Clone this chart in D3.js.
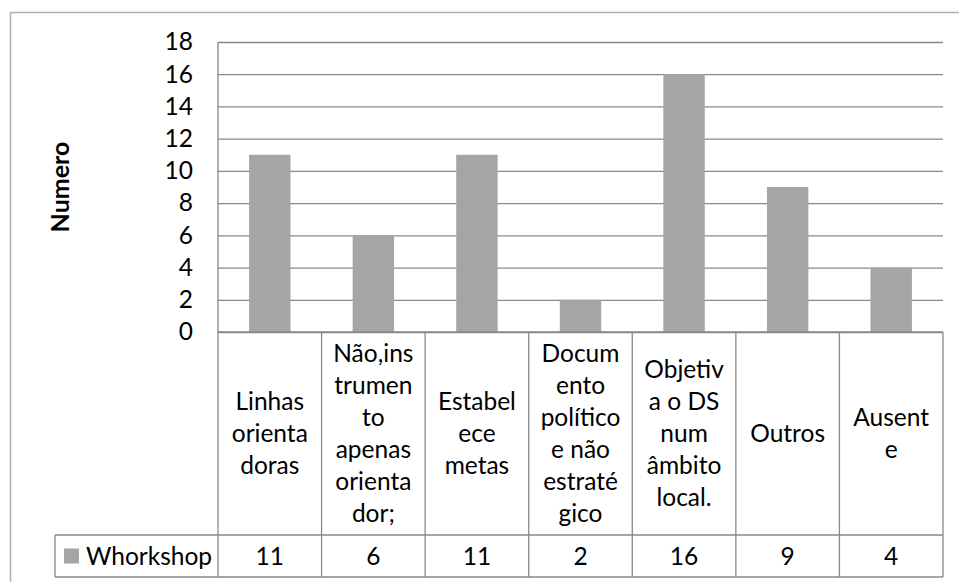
<!DOCTYPE html>
<html>
<head>
<meta charset="utf-8">
<script src="https://cdn.jsdelivr.net/npm/d3@7"></script>
<style>
  body { margin: 0; background: #fff; }
  svg { display: block; font-family: Lato, "Open Sans", sans-serif; }
</style>
</head>
<body>
<svg></svg>
<script>
var width = 959;
var height = 582;

// chart values
var seriesName = 'Whorkshop';
var categories = ['Linhas orientadoras', 'Não,instrumento apenas orientador;', 'Estabelece metas',
                  'Documento político e não estratégico', 'Objetiva o DS num âmbito local.', 'Outros', 'Ausente'];
// label lines as they wrap in the table cells
var categoryLines = [
    ['Linhas', 'orienta', 'doras'],
    ['Não,ins', 'trumen', 'to', 'apenas', 'orienta', 'dor;'],
    ['Estabel', 'ece', 'metas'],
    ['Docum', 'ento', 'político', 'e não', 'estraté', 'gico'],
    ['Objetiv', 'a o DS', 'num', 'âmbito', 'local.'],
    ['Outros'],
    ['Ausent', 'e']
];
var values = [11, 6, 11, 2, 16, 9, 4];
var yTicks = [0, 2, 4, 6, 8, 10, 12, 14, 16, 18];

var plot = {left: 218, right: 943, top: 42, bottom: 332};
var table = {labelBottom: 535, bottom: 577, legendLeft: 55};
var lineColor = '#898989';
var fontSize = 24.5;

var svg = d3.select('svg')
    .attr('width', width)
    .attr('height', height);

// outer chart border
svg.append('rect')
    .attr('x', 10.5)
    .attr('y', 12.5)
    .attr('width', 960)
    .attr('height', 600)
    .attr('fill', 'none')
    .attr('stroke', '#b0b0b0')
    .attr('stroke-width', 1.5);

var x = d3.scaleBand()
    .domain(categories)
    .range([plot.left, plot.right])
    .paddingInner(0)
    .paddingOuter(0);

var y = d3.scaleLinear()
    .domain([0, 18])
    .range([plot.bottom, plot.top]);

// gridlines + tick labels
var yAxis = svg.append('g')
    .attr('transform', `translate(${plot.left}, 0)`)
    .call(d3.axisLeft(y)
        .tickValues(yTicks)
        .tickSize(-(plot.right - plot.left))
        .tickPadding(25));

yAxis.select('.domain').remove();
yAxis.selectAll('.tick line')
    .attr('stroke', lineColor)
    .attr('stroke-width', 1.3);
yAxis.selectAll('.tick text')
    .attr('font-family', 'Lato, sans-serif')
    .attr('font-size', fontSize)
    .attr('fill', '#000');

// bars
var barW = x.bandwidth() * 0.4;
svg.append('g')
    .selectAll('rect')
    .data(values)
    .enter()
    .append('rect')
        .attr('x', (d, i) => x(categories[i]) + (x.bandwidth() - barW) / 2)
        .attr('y', d => y(d))
        .attr('width', barW)
        .attr('height', d => y(0) - y(d))
        .attr('fill', '#a5a5a5');

// data table lines
var grid = svg.append('g')
    .attr('stroke', lineColor)
    .attr('stroke-width', 1.3);

// left axis line down through the table
grid.append('line')
    .attr('x1', plot.left).attr('x2', plot.left)
    .attr('y1', plot.top).attr('y2', table.bottom);

grid.selectAll('.col')
    .data(categories)
    .enter()
    .append('line')
        .attr('x1', d => x(d) + x.bandwidth())
        .attr('x2', d => x(d) + x.bandwidth())
        .attr('y1', plot.bottom)
        .attr('y2', table.bottom);

grid.append('line')
    .attr('x1', plot.left).attr('x2', plot.right)
    .attr('y1', plot.bottom).attr('y2', plot.bottom);
grid.append('line')
    .attr('x1', table.legendLeft).attr('x2', plot.right)
    .attr('y1', table.labelBottom).attr('y2', table.labelBottom);
grid.append('line')
    .attr('x1', table.legendLeft).attr('x2', plot.right)
    .attr('y1', table.bottom).attr('y2', table.bottom);
grid.append('line')
    .attr('x1', table.legendLeft).attr('x2', table.legendLeft)
    .attr('y1', table.labelBottom).attr('y2', table.bottom);

// category labels, centred in their cells
var lineH = 32;
var labelMid = (plot.bottom + table.labelBottom) / 2;
svg.append('g')
    .selectAll('text')
    .data(categoryLines)
    .enter()
    .append('text')
        .attr('text-anchor', 'middle')
        .attr('font-size', fontSize)
        .attr('fill', '#000')
        .each(function(lines, i) {
            var cx = x(categories[i]) + x.bandwidth() / 2;
            var y0 = labelMid - (lines.length - 1) * lineH / 2;
            d3.select(this).selectAll('tspan')
                .data(lines)
                .enter()
                .append('tspan')
                    .attr('x', cx)
                    .attr('y', (d, j) => y0 + j * lineH)
                    .attr('dy', '0.35em')
                    .text(d => d);
        });

// values row
var rowMid = (table.labelBottom + table.bottom) / 2;
svg.append('g')
    .selectAll('text')
    .data(values)
    .enter()
    .append('text')
        .attr('x', (d, i) => x(categories[i]) + x.bandwidth() / 2)
        .attr('y', rowMid)
        .attr('dy', '0.35em')
        .attr('text-anchor', 'middle')
        .attr('font-size', fontSize)
        .text(d => d);

// legend key in the table
svg.append('rect')
    .attr('x', 64)
    .attr('y', rowMid - 7.5)
    .attr('width', 15)
    .attr('height', 15)
    .attr('fill', '#a5a5a5');
svg.append('text')
    .attr('x', 86)
    .attr('y', rowMid)
    .attr('dy', '0.35em')
    .attr('font-size', fontSize)
    .text(seriesName);

// y axis title
svg.append('text')
    .attr('transform', 'translate(60, 187) rotate(-90)')
    .attr('dy', '0.35em')
    .attr('text-anchor', 'middle')
    .attr('font-size', 25)
    .attr('font-weight', 'bold')
    .text('Numero');
</script>
</body>
</html>
